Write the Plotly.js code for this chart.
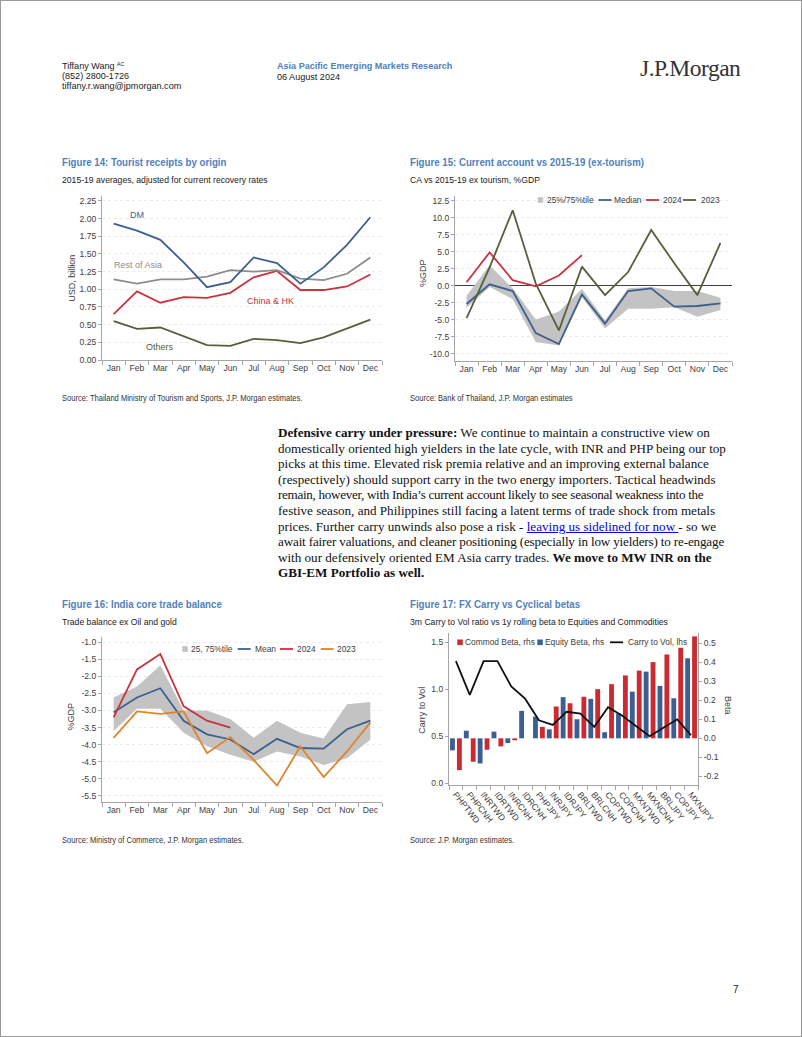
<!DOCTYPE html>
<html><head><meta charset="utf-8">
<script src="https://cdn.plot.ly/plotly-3.0.1.min.js"></script>
<style>
html,body{margin:0;padding:0;background:#fff}
body{width:802px;height:1037px;position:relative;overflow:hidden;font-family:"Liberation Sans Narrow","Arial Narrow","Liberation Sans",Arial,sans-serif;color:#222}
#page{position:absolute;left:0;top:0;width:800px;height:1035px;border:1px solid #9a9a9a}
.t{position:absolute;white-space:nowrap;transform-origin:0 0}
.ftitle{color:#4f81bd;font-weight:bold;font-size:11px;line-height:14px;transform:scaleX(0.88)}
.fsub{color:#222;font-size:9.4px;line-height:12px;transform:scaleX(0.92)}
.src{color:#333;font-size:8.2px;line-height:10px;transform:scaleX(0.92)}
.hd{font-size:9.6px;line-height:10px;color:#222;transform:scaleX(0.945)}
.chart{position:absolute}
.para{position:absolute;left:278px;top:425px;font-family:"Liberation Serif","Times New Roman",serif;font-size:13.1px;line-height:15.6px;color:#111;white-space:nowrap}
.para a{color:#0000ee;text-decoration:underline}
</style></head>
<body>
<div id="page"></div>
<div class="t hd" style="left:62px;top:61px">Tiffany Wang <span style="font-size:5.5px;position:relative;top:-3px">AC</span></div>
<div class="t hd" style="left:62px;top:71px">(852) 2800-1726</div>
<div class="t hd" style="left:62px;top:81px">tiffany.r.wang@jpmorgan.com</div>
<div class="t hd" style="left:277px;top:61px;color:#4f81bd;font-weight:bold">Asia Pacific Emerging Markets Research</div>
<div class="t hd" style="left:277px;top:72px">06 August 2024</div>
<div class="t" style="left:640px;top:54px;font-family:'Liberation Serif','Times New Roman',serif;font-size:23.5px;line-height:28px;color:#333;letter-spacing:-0.5px">J.P.Morgan</div>

<div class="t ftitle" style="left:62px;top:155px">Figure 14: Tourist receipts by origin</div>
<div class="t fsub" style="left:62px;top:174px">2015-19 averages, adjusted for current recovery rates</div>
<div class="t src" style="left:62px;top:394px">Source: Thailand Ministry of Tourism and Sports, J.P. Morgan estimates.</div>

<div class="t ftitle" style="left:410px;top:155px">Figure 15: Current account vs 2015-19 (ex-tourism)</div>
<div class="t fsub" style="left:410px;top:174px">CA vs 2015-19 ex tourism, %GDP</div>
<div class="t src" style="left:410px;top:394px">Source: Bank of Thailand, J.P. Morgan estimates</div>

<div class="para">
<b>Defensive carry under pressure:</b> We continue to maintain a constructive view on<br>
domestically oriented high yielders in the late cycle, with INR and PHP being our top<br>
picks at this time. Elevated risk premia relative and an improving external balance<br>
(respectively) should support carry in the two energy importers. Tactical headwinds<br>
<span style="letter-spacing:-0.3px">remain, however, with India’s current account likely to see seasonal weakness into the</span><br>
festive season, and Philippines still facing a latent terms of trade shock from metals<br>
prices. Further carry unwinds also pose a risk - <a>leaving us sidelined for now </a>- so we<br>
<span style="letter-spacing:-0.15px">await fairer valuations, and cleaner positioning (especially in low yielders) to re-engage</span><br>
with our defensively oriented EM Asia carry trades. <b>We move to MW INR on the</b><br>
<b>GBI-EM Portfolio as well.</b>
</div>

<div class="t ftitle" style="left:62px;top:597px">Figure 16: India core trade balance</div>
<div class="t fsub" style="left:62px;top:616px">Trade balance ex Oil and gold</div>
<div class="t src" style="left:62px;top:836px">Source: Ministry of Commerce, J.P. Morgan estimates.</div>

<div class="t ftitle" style="left:410px;top:597px">Figure 17: FX Carry vs Cyclical betas</div>
<div class="t fsub" style="left:410px;top:616px">3m Carry to Vol ratio vs 1y rolling beta to Equities and Commodities</div>
<div class="t src" style="left:410px;top:836px">Source: J.P. Morgan estimates.</div>

<div class="t" style="left:733px;top:984px;font-size:10px;color:#222">7</div>

<div id="c14" class="chart" style="left:40px;top:190px"></div>
<div id="c15" class="chart" style="left:400px;top:190px"></div>
<div id="c16" class="chart" style="left:40px;top:630px"></div>
<div id="c17" class="chart" style="left:400px;top:625px"></div>

<script>
// ---------------- DATA ----------------
const months = ['Jan','Feb','Mar','Apr','May','Jun','Jul','Aug','Sep','Oct','Nov','Dec'];

// Figure 14: Tourist receipts by origin (USD bn)
const dm         = [1.93, 1.83, 1.70, 1.38, 1.03, 1.10, 1.45, 1.37, 1.08, 1.31, 1.63, 2.02];
const restOfAsia = [1.14, 1.08, 1.14, 1.14, 1.18, 1.27, 1.25, 1.27, 1.15, 1.13, 1.22, 1.45];
const chinaHK    = [0.65, 0.97, 0.81, 0.89, 0.88, 0.95, 1.17, 1.26, 0.99, 0.99, 1.04, 1.21];
const others     = [0.55, 0.44, 0.46, 0.34, 0.21, 0.20, 0.30, 0.28, 0.24, 0.32, 0.44, 0.57];

// Figure 15: Current account vs 2015-19 ex tourism (%GDP)
const caP75    = [-1.5, 3.0, -0.4, -5.0, -3.8, -0.5, -5.1, -0.4, -0.2, -0.8, -0.8, -1.8];
const caP25    = [-3.3, -0.2, -2.0, -8.3, -8.8, -1.7, -6.3, -3.4, -3.4, -3.2, -4.6, -3.6];
const caMedian = [-2.7, 0.2, -0.8, -7.0, -8.6, -1.3, -5.6, -0.8, -0.4, -3.1, -3.0, -2.6];
const ca2024   = [0.5, 4.9, 0.8, -0.1, 1.5, 4.5];
const ca2023   = [-4.8, 2.7, 11.1, 0.3, -6.6, 2.8, -1.4, 2.0, 8.2, 3.3, -1.4, 6.3];

// Figure 16: India core trade balance (%GDP)
const tbP75  = [-2.62, -2.30, -1.68, -3.00, -3.00, -3.25, -3.80, -3.30, -3.65, -3.82, -2.82, -2.75];
const tbP25  = [-3.60, -2.95, -2.95, -3.65, -4.05, -4.30, -4.50, -4.20, -4.35, -4.60, -4.40, -3.85];
const tbMean = [-3.05, -2.62, -2.35, -3.30, -3.70, -3.85, -4.28, -3.83, -4.10, -4.12, -3.55, -3.30];
const tb2024 = [-3.20, -1.80, -1.35, -2.88, -3.30, -3.50];
const tb2023 = [-3.80, -3.03, -3.10, -3.03, -4.25, -3.78, -4.45, -5.20, -4.05, -4.95, -4.20, -3.35];

// Figure 17: FX carry vs cyclical betas
const fxPairs    = ['PHPTWD','PHPCNH','INRTWD','IDRTWD','INRCNH','IDRCNH','PHPJPY','INRJPY','IDRJPY',
                    'BRLTWD','BRLCNH','COPTWD','COPCNH','MXNTWD','MXNCNH','BRLJPY','COPJPY','MXNJPY'];
const equityBeta = [-0.063, 0.040, -0.132, 0.035, -0.025, 0.144, 0.114, 0.047, 0.216,
                    0.100, 0.207, 0.032, 0.130, 0.245, 0.350, 0.275, 0.210, 0.420];
const commodBeta = [-0.167, -0.123, -0.060, -0.042, -0.010, 0.0, 0.060, 0.167, 0.184,
                    0.218, 0.258, 0.284, 0.330, 0.355, 0.400, 0.440, 0.475, 0.535];
const carryToVol = [1.30, 0.94, 1.30, 1.30, 1.03, 0.90, 0.67, 0.62, 0.76,
                    0.74, 0.60, 0.81, 0.72, 0.61, 0.50, 0.59, 0.68, 0.51];

// ---------------- STYLE ----------------
const F = '"Liberation Sans Narrow", "Arial Narrow", "Liberation Sans", Arial, sans-serif';
const TXT = '#404040';
const AX = '#a6a6a6';
const BLUE = '#3d5f8f', RED = '#c8333f', OLIVE = '#55603a', GREY = '#8c8c8c', ORANGE = '#e0832c', BAND = '#c3c3c3';
const TS = 8.6, LS = 8.4;
const cfg = {staticPlot:true, displayModeBar:false};

function fmt(vals, d){ return vals.map(v => v.toFixed(d)); }
function range(a, b, s){ const r=[]; for(let v=a; v<=b+1e-9; v+=s) r.push(Math.round(v*1000)/1000); return r; }

function yax(extra){
  return Object.assign({showline:true, linecolor:AX, linewidth:1, ticks:'outside', ticklen:3, tickcolor:AX,
    tickfont:{family:F, size:TS, color:TXT}, showgrid:true, gridcolor:'#ebebeb', griddash:'dot', gridwidth:1,
    zeroline:false, fixedrange:true}, extra);
}
function xax(extra){
  return Object.assign({type:'category', showline:true, linecolor:AX, linewidth:1, ticks:'outside', tickson:'boundaries',
    ticklen:4, tickcolor:AX, tickangle:0, tickfont:{family:F, size:TS, color:TXT}, showgrid:false, zeroline:false, fixedrange:true}, extra);
}
function baseLayout(W, H, m){
  return {width:W, height:H, margin:m, paper_bgcolor:'rgba(0,0,0,0)', plot_bgcolor:'rgba(0,0,0,0)',
    showlegend:false, font:{family:F, size:TS, color:TXT}, shapes:[], annotations:[]};
}
// pixel (relative to chart div) -> paper coords
function conv(W, H, m){
  const pw = W - m.l - m.r, ph = H - m.t - m.b;
  return {x: x => (x - m.l)/pw, y: y => 1 - (y - m.t)/ph};
}
function addLegend(L, W, H, m, yPx, items){
  const c = conv(W, H, m);
  items.forEach(it => {
    if (it.kind === 'square') {
      L.shapes.push({type:'rect', xref:'paper', yref:'paper', x0:c.x(it.x), x1:c.x(it.x+5.5),
        y0:c.y(yPx+2.8), y1:c.y(yPx-2.8), fillcolor:it.color, line:{width:0}});
    } else {
      L.shapes.push({type:'line', xref:'paper', yref:'paper', x0:c.x(it.x), x1:c.x(it.x+13),
        y0:c.y(yPx), y1:c.y(yPx), line:{color:it.color, width:1.8}});
    }
    L.annotations.push({xref:'paper', yref:'paper', x:c.x(it.tx), y:c.y(yPx), xanchor:'left', yanchor:'middle',
      text:it.label, showarrow:false, borderpad:0, font:{family:F, size:LS, color:TXT}});
  });
}
function addYTitle(L, W, H, m, xPx, yPx, text, angle){
  const c = conv(W, H, m);
  L.annotations.push({xref:'paper', yref:'paper', x:c.x(xPx), y:c.y(yPx), xanchor:'center', yanchor:'middle',
    text:text, textangle:angle, showarrow:false, font:{family:F, size:9, color:TXT}});
}
const line = (x, y, color, extra) => Object.assign({type:'scatter', mode:'lines', x:x, y:y,
  line:{color:color, width:1.8}, hoverinfo:'skip'}, extra||{});

// ---------------- FIGURE 14 ----------------
(function(){
  const W=350, H=190, m={l:62, r:8, t:6, b:20};
  const L = baseLayout(W, H, m);
  L.xaxis = xax({range:[-0.5, 11.5]});
  L.yaxis = yax({range:[0, 2.32], tickvals:range(0, 2.25, 0.25), ticktext:fmt(range(0, 2.25, 0.25), 2)});
  addYTitle(L, W, H, m, 31.7, 88, 'USD, billion', -90);
  const lbl = (x, y, t, col) => L.annotations.push({x:x, y:y, xref:'x', yref:'y', text:t, showarrow:false,
    font:{family:F, size:9, color:col}});
  lbl(1.0, 2.05, 'DM', BLUE);
  lbl(1.05, 1.34, 'Rest of Asia', GREY);
  lbl(6.72, 0.83, 'China &amp; HK', RED);
  lbl(2.0, 0.19, 'Others', OLIVE);
  const data = [
    line(months, others, OLIVE),
    line(months, chinaHK, RED),
    line(months, restOfAsia, GREY),
    line(months, dm, BLUE)
  ];
  Plotly.newPlot('c14', data, L, cfg);
})();

// ---------------- FIGURE 15 ----------------
(function(){
  const W=345, H=190, m={l:55, r:13, t:6, b:19};
  const L = baseLayout(W, H, m);
  const tv = range(-10, 12.5, 2.5);
  L.xaxis = xax({range:[-0.5, 11.5]});
  L.yaxis = yax({range:[-11.1, 13.2], tickvals:tv, ticktext:fmt(tv, 1), zeroline:true, zerolinecolor:'#404040', zerolinewidth:1.2});
  addYTitle(L, W, H, m, 23, 83, '%GDP', -90);
  addLegend(L, W, H, m, 10, [
    {kind:'square', x:137.7, tx:145.5, color:BAND, label:'25%/75%tile'},
    {kind:'line', x:198.5, tx:213, color:BLUE, label:'Median'},
    {kind:'line', x:246, tx:261.5, color:RED, label:'2024'},
    {kind:'line', x:283, tx:300, color:OLIVE, label:'2023'}
  ]);
  const data = [
    line(months, caP25, BAND, {line:{width:0, color:BAND}}),
    line(months, caP75, BAND, {line:{width:0, color:BAND}, fill:'tonexty', fillcolor:BAND}),
    line(months, caMedian, BLUE),
    line(months.slice(0, ca2024.length), ca2024, RED),
    line(months, ca2023, OLIVE)
  ];
  Plotly.newPlot('c15', data, L, cfg);
})();

// ---------------- FIGURE 16 ----------------
(function(){
  const W=350, H=190, m={l:62, r:8, t:7, b:18};
  const L = baseLayout(W, H, m);
  const tv = range(-5.5, -1.0, 0.5);
  L.xaxis = xax({range:[-0.5, 11.5]});
  L.yaxis = yax({range:[-5.68, -0.85], tickvals:tv, ticktext:fmt(tv, 1)});
  addYTitle(L, W, H, m, 30.7, 86.7, '%GDP', -90);
  addLegend(L, W, H, m, 19, [
    {kind:'square', x:142.3, tx:149.5, color:BAND, label:'25, 75%tile'},
    {kind:'line', x:197.7, tx:213.5, color:BLUE, label:'Mean'},
    {kind:'line', x:240, tx:255.5, color:RED, label:'2024'},
    {kind:'line', x:280.7, tx:295.5, color:ORANGE, label:'2023'}
  ]);
  const data = [
    line(months, tbP25, BAND, {line:{width:0, color:BAND}}),
    line(months, tbP75, BAND, {line:{width:0, color:BAND}, fill:'tonexty', fillcolor:BAND}),
    line(months, tbMean, BLUE),
    line(months.slice(0, tb2024.length), tb2024, RED),
    line(months, tb2023, ORANGE)
  ];
  Plotly.newPlot('c16', data, L, cfg);
})();

// ---------------- FIGURE 17 ----------------
(function(){
  const W=345, H=210, m={l:49, r:47, t:8, b:50};
  const L = baseLayout(W, H, m);
  const leftRange = [-0.02, 1.6];
  const k = 0.4923, off = 0.4775;                 // beta axis aligned so that beta 0 sits at carry 0.4775
  const rightRange = [(leftRange[0]-off)*k, (leftRange[1]-off)*k];
  const tvB = range(-0.2, 0.5, 0.1), tvC = [0, 0.5, 1.0, 1.5];
  L.barmode = 'group'; L.bargap = 0.0; L.bargroupgap = 0.3;
  L.xaxis = xax({range:[-0.5, 17.5], tickangle:52, tickfont:{family:F, size:8.6, color:TXT}});
  L.yaxis = yax({side:'right', range:rightRange, tickvals:tvB, ticktext:fmt(tvB, 1), showgrid:false});
  L.yaxis2 = yax({side:'left', overlaying:'y', range:leftRange, tickvals:tvC, ticktext:fmt(tvC, 1), showgrid:false});
  addYTitle(L, W, H, m, 21.7, 85, 'Carry to Vol', -90);
  addYTitle(L, W, H, m, 328, 80, 'Beta', 90);
  addLegend(L, W, H, m, 17.3, [
    {kind:'square', x:57.3, tx:63.5, color:'#cc2a30', label:'Commod Beta, rhs'},
    {kind:'square', x:137.3, tx:143.5, color:'#3b5f93', label:'Equity Beta, rhs'},
    {kind:'line', x:210, tx:226.5, color:'#111', label:'Carry to Vol, lhs'}
  ]);
  const data = [
    {type:'bar', x:fxPairs, y:equityBeta, marker:{color:'#3b5f93'}, yaxis:'y', hoverinfo:'skip'},
    {type:'bar', x:fxPairs, y:commodBeta, marker:{color:'#cc2a30'}, yaxis:'y', hoverinfo:'skip'},
    {type:'scatter', mode:'lines', x:fxPairs, y:carryToVol, yaxis:'y2', line:{color:'#111', width:1.8}, hoverinfo:'skip'}
  ];
  Plotly.newPlot('c17', data, L, cfg);
})();
</script>
</body></html>
